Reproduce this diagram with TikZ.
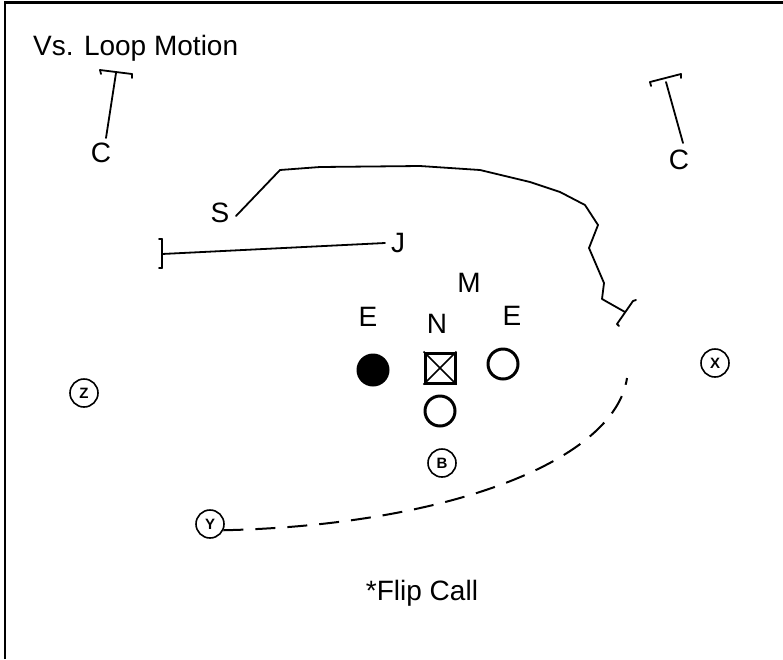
\documentclass[tikz,border=0pt]{standalone}
\usepackage{fontspec}
\setmainfont{Liberation Sans}
\begin{document}
\begin{tikzpicture}[x=1pt,y=-1pt,
  lbl/.style={font=\fontsize{28}{28}\selectfont, inner sep=0pt},
  route/.style={line width=1.8pt, line join=round, line cap=round},
  endtick/.style={line width=1.8pt, line cap=round},
  skill/.style={circle, draw, line width=1.6pt, minimum size=28pt, inner sep=0pt,
    font=\fontsize{15}{15}\selectfont\bfseries},
  lineman/.style={circle, draw, line width=3pt, minimum size=30pt, inner sep=0pt},
  motion/.style={line width=2pt, dash pattern=on 20pt off 12pt}]
\useasboundingbox (0,0) rectangle (783,659);
% frame
\draw[line width=2.5pt] (5,659) -- (5,2.5) -- (783,2.5);

% title and note
\node[lbl, anchor=base west] (title) at (33,55) {Vs. Loop Motion};
\node[lbl] (note) at (422,593) {*Flip Call};

% defenders
\node[lbl] (cl) at (101,153) {C};
\node[lbl] (cr) at (679,160) {C};
\node[lbl] (s) at (220,213) {S};
\node[lbl] (j) at (398,243) {J};
\node[lbl] (m) at (469,283) {M};
\node[lbl] (el) at (368,317) {E};
\node[lbl] (n) at (437,324) {N};
\node[lbl] (er) at (512,316) {E};

% offensive line
\node[circle, fill, minimum size=33pt, inner sep=0pt] (tackle) at (373,370) {};
\node[draw, line width=3pt, minimum size=30pt, inner sep=0pt] (center) at (440,368) {};
\draw[line width=1.5pt] (center.north west) -- (center.south east)
                        (center.north east) -- (center.south west);
\node[lineman] (guard) at (503,364) {};
\node[lineman] (qb) at (440,411) {};

% skill players
\node[skill] (b) at (442,463) {B};
\node[skill] (y) at (210,524) {Y};
\node[skill] (z) at (84,393) {Z};
\node[skill] (x) at (715,363) {X};

% left corner drop
\coordinate (cl0) at (106,138);
\coordinate (cl1) at (116,73);
\coordinate (cla) at (100,70);
\coordinate (clb) at (132,74);
\draw[route] (cl0) -- (cl1);
\draw[endtick] (cla) -- (clb);
\draw[endtick] (cla) -- ++(1,4) (clb) -- ++(0,4);

% right corner drop
\coordinate (cr0) at (683,143);
\coordinate (cr1) at (666,82);
\coordinate (cra) at (650,82);
\coordinate (crb) at (681,74);
\draw[route] (cr0) -- (cr1);
\draw[endtick] (cra) -- (crb);
\draw[endtick] (cra) -- ++(1,4) (crb) -- ++(0,4);

% safety rotation
\coordinate (s0) at (236,216);
\coordinate (s9) at (625,312);
\draw[route] (s0) -- (280,170) -- (320,167) -- (420,166) -- (480,170)
  -- (530,182) -- (560,192) -- (585,205) -- (598,225) -- (589,248)
  -- (604,283) -- (602,299) -- (s9);
\coordinate (sa) at (617,324);
\coordinate (sb) at (633,301);
\draw[endtick] (sa) -- (sb);
\draw[endtick] (sa) -- ++(2,2) (sb) -- ++(3,-1);

% J drop
\coordinate (j0) at (385,243);
\coordinate (j1) at (162,254);
\draw[route] (j0) -- (j1);
\coordinate (ja) at (162,239);
\coordinate (jb) at (162,268);
\draw[endtick] (ja) -- (jb);
\draw[endtick] (ja) -- ++(-3,0) (jb) -- ++(-3,0);

% Y loop motion
\coordinate (ym) at (627,378);
\draw[motion] (y.-25) .. controls (450,525) and (615,460) .. (ym);
\end{tikzpicture}
\end{document}
